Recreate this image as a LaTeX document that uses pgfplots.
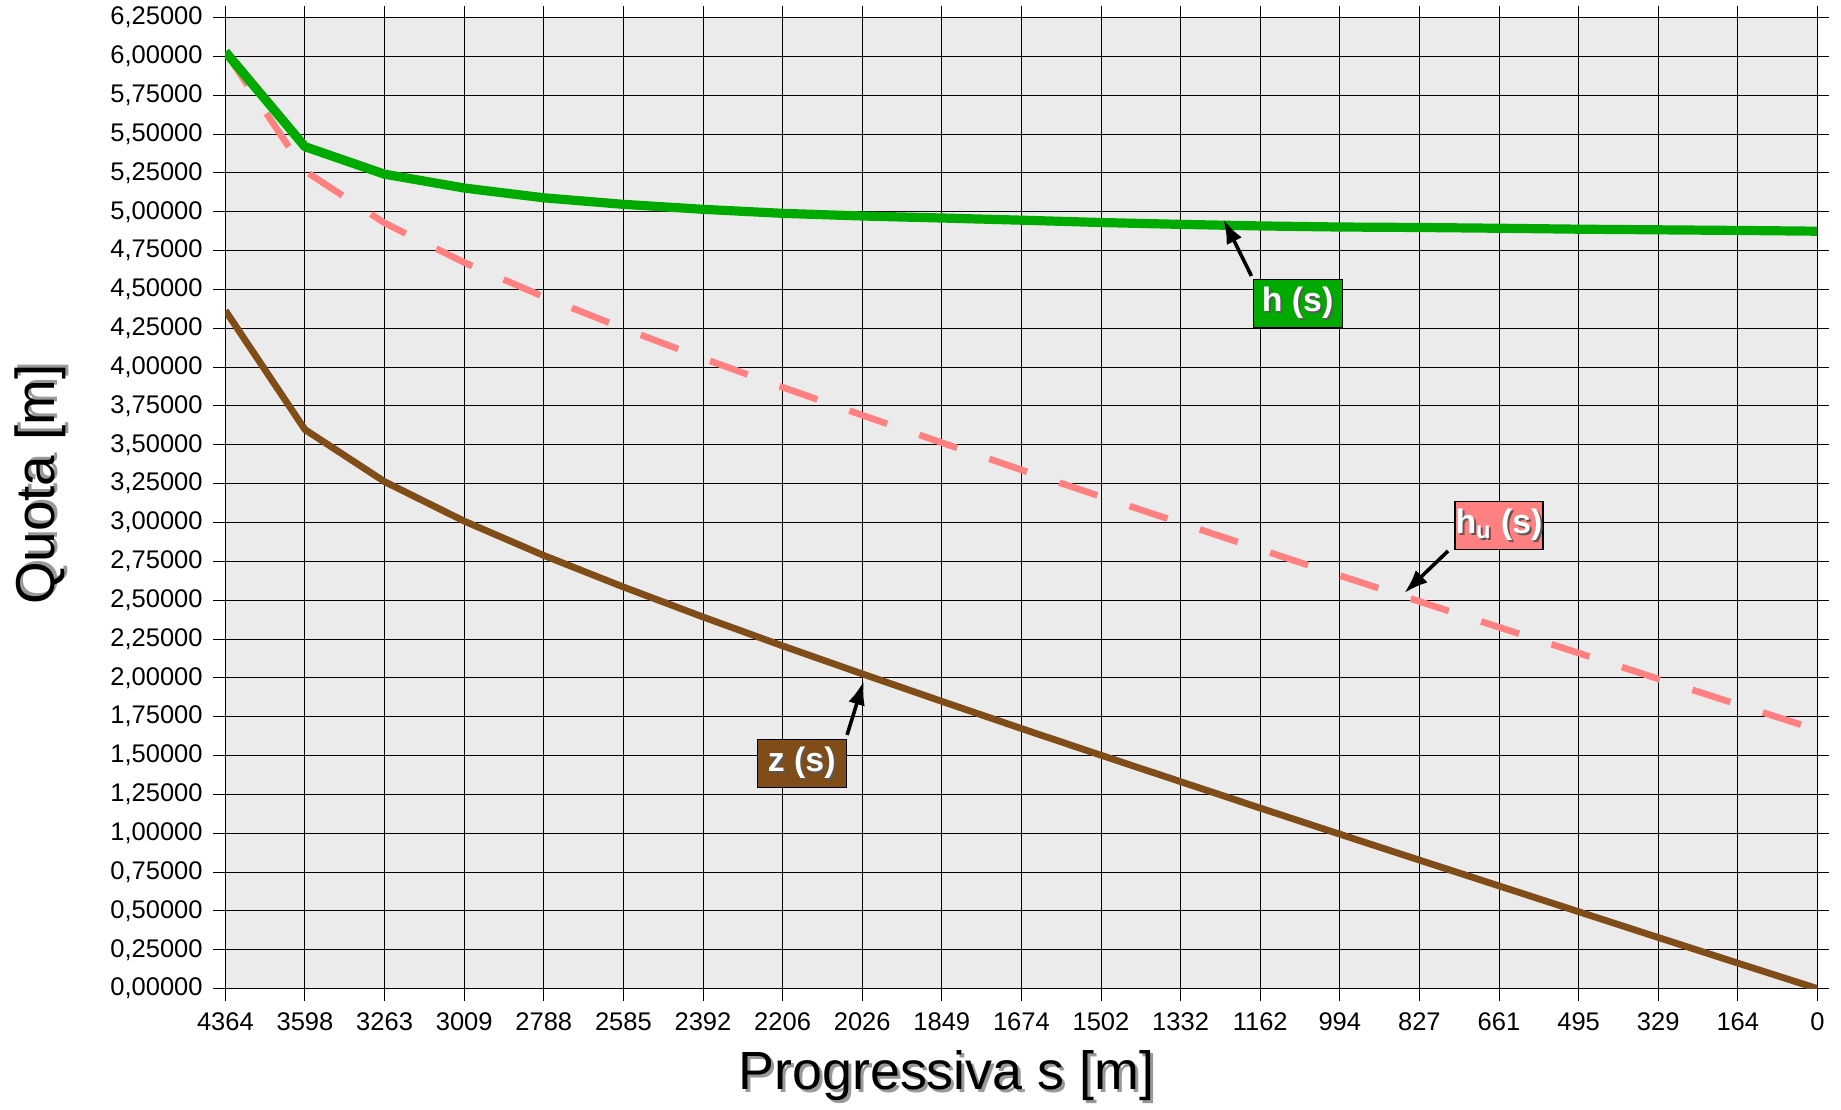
\documentclass[border=0pt]{standalone}
\usepackage{fontspec}
\setmainfont{Liberation Sans}
\usepackage{pgfplots}
\usepackage{pgfplotstable}
\pgfplotsset{compat=1.18}
\usetikzlibrary{arrows.meta}
\definecolor{hgreen}{RGB}{0,170,0}
\definecolor{hupink}{RGB}{255,128,128}
\definecolor{zbrown}{RGB}{128,77,25}
\definecolor{bggray}{RGB}{235,235,235}
\newcommand{\shadowtxt}[1]{\makebox[0pt][l]{\hspace{1.5bp}\raisebox{-1.5bp}{\textcolor{black!40}{#1}}}#1}
\newcommand{\boxshadow}[1]{\makebox[0pt][l]{\hspace{1bp}\raisebox{-1bp}{\textcolor{black!65}{#1}}}#1}

\pgfplotstableread{
i s z h hu
0 4364 4.364 6.030 6.029
1 3598 3.598 5.419 5.263
2 3263 3.263 5.242 4.928
3 3009 3.009 5.153 4.674
4 2788 2.788 5.090 4.453
5 2585 2.585 5.048 4.250
6 2392 2.392 5.016 4.057
7 2206 2.206 4.990 3.871
8 2026 2.026 4.973 3.691
9 1849 1.849 4.960 3.514
10 1674 1.674 4.946 3.339
11 1502 1.502 4.931 3.167
12 1332 1.332 4.919 2.997
13 1162 1.162 4.909 2.827
14 994 0.994 4.902 2.659
15 827 0.827 4.899 2.492
16 661 0.661 4.894 2.326
17 495 0.495 4.888 2.160
18 329 0.329 4.884 1.994
19 164 0.164 4.880 1.829
20 0 0.000 4.875 1.665
}\datatable

\begin{document}
\begin{tikzpicture}
\useasboundingbox (-112.7bp,-60.7bp) rectangle (807.8bp,494.3bp);
\begin{axis}[
  at={(0,0)}, anchor=south west,
  scale only axis,
  width=796bp, height=485.5bp,
  xmin=0, xmax=20, ymin=0, ymax=6.25,
  xtick={0,...,20},
  xticklabels={4364,3598,3263,3009,2788,2585,2392,2206,2026,1849,1674,1502,1332,1162,994,827,661,495,329,164,0},
  ytick={0,0.25,...,6.26},
  yticklabel={\pgfmathprintnumber[fixed,fixed zerofill,precision=5,use comma,1000 sep={}]{\tick}},
  /pgf/number format/assume math mode=true,
  tick align=outside,
  major tick length=6bp,
  tick style={black, line width=0.5bp},
  xticklabel style={inner sep=0pt, anchor=north, font=\fontsize{12.8}{14}\selectfont},
  yticklabel style={inner sep=0pt, anchor=east, font=\fontsize{12.8}{14}\selectfont},
  xticklabel shift=5.7bp,
  yticklabel shift=5.2bp,
  grid=major,
  major grid style={black, line width=0.5bp},
  axis line style={black, line width=0.6bp},
  axis background/.style={fill=bggray},
  xlabel={\shadowtxt{Progressiva s [m]}},
  ylabel={\shadowtxt{Quota [m]}},
  xlabel style={at={(axis description cs:0.4529,-0.091)}, anchor=center, inner sep=0pt, font=\fontsize{27}{30}\selectfont},
  ylabel style={at={(axis description cs:-0.1156,0.519)}, anchor=center, rotate=0, inner sep=0pt, font=\fontsize{27.5}{30}\selectfont},
  clip=true,
]
\addplot[hupink, line width=3.3bp, dash pattern=on 20bp off 17bp, line cap=butt] table[x=i, y=hu] {\datatable};
\addplot[zbrown, line width=3.4bp, line join=round] table[x=i, y=z] {\datatable};
\addplot[hgreen, line width=4.6bp, line join=round] table[x=i, y=h] {\datatable};

\draw[black, line width=1.8bp, -{Latex[length=12bp,width=8.5bp]}] (axis cs:12.89,4.587) -- (axis cs:12.54,4.95);
\draw[black, line width=1.8bp, -{Latex[length=12bp,width=8.5bp]}] (axis cs:15.36,2.817) -- (axis cs:14.81,2.546);
\draw[black, line width=1.8bp, -{Latex[length=12bp,width=8.5bp]}] (axis cs:7.81,1.633) -- (axis cs:8.02,1.98);

\node[fill=hgreen, draw=black, line width=0.6bp, minimum width=44.5bp, minimum height=24bp, inner sep=0pt, text=white, font=\bfseries\fontsize{17}{19}\selectfont] at (axis cs:13.47,4.41) {\boxshadow{h (s)}};
\node[fill=hupink, draw=black, line width=0.6bp, minimum width=44bp, minimum height=24bp, inner sep=0pt, text=white, font=\bfseries\fontsize{17}{19}\selectfont] at (axis cs:16.0,2.98) {\boxshadow{h\textsubscript{u} (s)}};
\node[fill=zbrown, draw=black, line width=0.6bp, minimum width=44.5bp, minimum height=24bp, inner sep=0pt, text=white, font=\bfseries\fontsize{17}{19}\selectfont] at (axis cs:7.24,1.45) {\boxshadow{z (s)}};
\end{axis}
\end{tikzpicture}
\end{document}
